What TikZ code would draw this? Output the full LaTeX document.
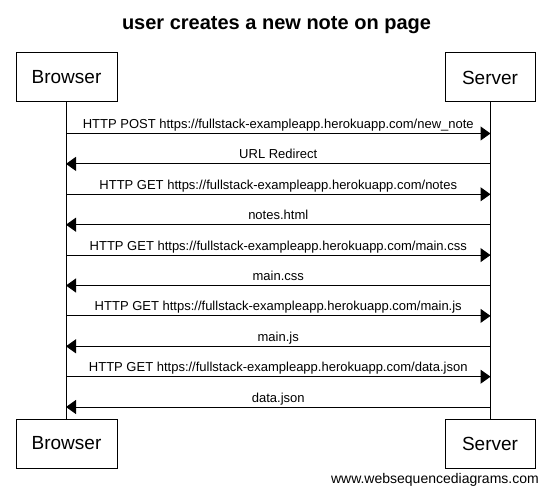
\documentclass[tikz,border=0pt]{standalone}
\usepackage{fontspec}
\setmainfont{Liberation Sans}
\usetikzlibrary{arrows.meta}
\begin{document}
\begin{tikzpicture}[x=1pt,y=-1pt,
  actor/.style={draw,line width=1pt,inner sep=0pt,minimum height=49pt,font=\fontsize{19}{22}\selectfont},
  life/.style={line width=1pt},
  msg/.style={line width=1pt,-{Triangle[length=10pt,width=14pt]},shorten >=-0.5pt},
  lbl/.style={midway,anchor=base,yshift=5pt,inner sep=0pt,font=\fontsize{13}{15}\selectfont}]
\useasboundingbox (0,0) rectangle (549,492);
\node[font=\bfseries\fontsize{20}{24}\selectfont,anchor=base] (title) at (276.5,30) {user creates a new note on page};
\node[actor,minimum width=101pt] (bt) at (66.5,77.5) {Browser};
\node[actor,minimum width=90pt] (st) at (490,77.5) {Server};
\node[actor,minimum width=101pt] (bb) at (66.5,443.5) {Browser};
\node[actor,minimum width=90pt] (sb) at (490,443.5) {Server};
\draw[life] (bt.south) -- (bb.north);
\draw[life] (st.south) -- (sb.north);
\foreach \i/\y in {1/133.5,2/163.9,3/194.3,4/224.7,5/255.1,6/285.5,7/315.9,8/346.3,9/376.7,10/407}{
  \coordinate (b\i) at (66.5,\y);
  \coordinate (s\i) at (490,\y);
}
\draw[msg] (b1) -- node[lbl]{HTTP POST https://fullstack-exampleapp.herokuapp.com/new\_note} (s1);
\draw[msg] (s2) -- node[lbl]{URL Redirect} (b2);
\draw[msg] (b3) -- node[lbl]{HTTP GET https://fullstack-exampleapp.herokuapp.com/notes} (s3);
\draw[msg] (s4) -- node[lbl]{notes.html} (b4);
\draw[msg] (b5) -- node[lbl]{HTTP GET https://fullstack-exampleapp.herokuapp.com/main.css} (s5);
\draw[msg] (s6) -- node[lbl]{main.css} (b6);
\draw[msg] (b7) -- node[lbl]{HTTP GET https://fullstack-exampleapp.herokuapp.com/main.js} (s7);
\draw[msg] (s8) -- node[lbl]{main.js} (b8);
\draw[msg] (b9) -- node[lbl]{HTTP GET https://fullstack-exampleapp.herokuapp.com/data.json} (s9);
\draw[msg] (s10) -- node[lbl]{data.json} (b10);
\node[anchor=base east,inner sep=0pt,font=\fontsize{14}{16}\selectfont] (footer) at (539,483) {www.websequencediagrams.com};
\end{tikzpicture}
\end{document}
